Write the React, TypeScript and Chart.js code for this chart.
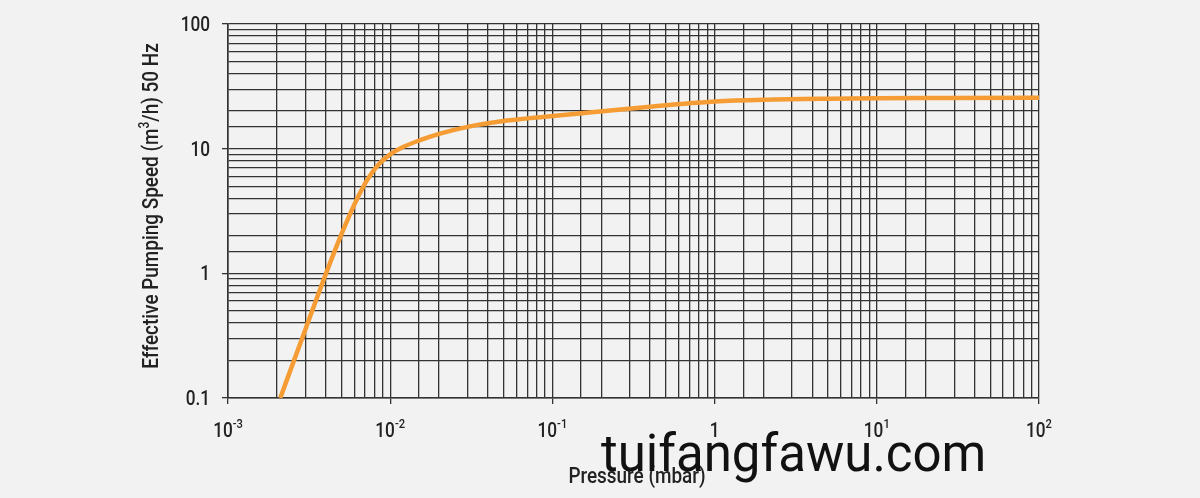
import React, { useEffect, useRef } from 'react';
import { Chart, registerables } from 'chart.js';
Chart.register(...registerables);

// Data
const pressure = [0.0021, 0.003, 0.0038, 0.0045, 0.0053, 0.0062, 0.0072, 0.0085, 0.01, 0.012, 0.0153, 0.0203, 0.031, 0.0475, 0.097, 0.196, 0.4, 0.61, 1, 2, 5, 10, 30, 100];
const speed = [0.1, 0.355, 0.82, 1.46, 2.46, 3.88, 5.6, 7.5, 9.0, 10.3, 11.7, 13.2, 15.1, 16.5, 18.2, 19.9, 21.7, 22.8, 23.9, 24.7, 25.2, 25.4, 25.5, 25.6];

const xTickValues = [0.001, 0.01, 0.1, 1, 10, 100];
const xTickBases = ['10', '10', '10', '1', '10', '10'];
const xTickExps = ['-3', '-2', '-1', '', '1', '2'];
const yTickValues = [0.1, 1, 10, 100];
const yTickLabels = ['0.1', '1', '10', '100'];

const xTitle = 'Pressure (mbar)';
const yTitleParts = ['Effective Pumping Speed (m', '3', '/h) 50 Hz'];
const watermark = 'tuifangfawu.com';

const FONT = "Roboto, 'Noto Sans', sans-serif";
const SX = 0.86; // horizontal condensing
const TEXT = '#222';
const GRID = '#333';

const isMajor = (v: number) => {
  const l = Math.log10(v);
  return Math.abs(l - Math.round(l)) < 1e-9;
};

function measure(ctx: CanvasRenderingContext2D, t: string, size: number) {
  ctx.font = `500 ${size}px ${FONT}`;
  return ctx.measureText(t).width * SX;
}
function put(ctx: CanvasRenderingContext2D, t: string, x: number, y: number, size: number) {
  ctx.save();
  ctx.font = `500 ${size}px ${FONT}`;
  ctx.textAlign = 'left';
  ctx.translate(x, y);
  ctx.scale(SX, 1);
  ctx.fillText(t, 0, 0);
  ctx.restore();
}

export default function App() {
  const ref = useRef<HTMLCanvasElement>(null);
  useEffect(() => {
    document.body.style.margin = '0';
    const canvas = ref.current!;
    const textPlugin = {
      id: 'texts',
      afterDraw(chart: any) {
        const ctx: CanvasRenderingContext2D = chart.ctx;
        const xs = chart.scales.x;
        const ys = chart.scales.y;
        ctx.save();
        ctx.fillStyle = TEXT;
        ctx.textBaseline = 'alphabetic';
        // x tick labels with superscripts
        xTickValues.forEach((v, i) => {
          const px = xs.getPixelForValue(v);
          const bw = measure(ctx, xTickBases[i], 20);
          const ew = xTickExps[i] ? measure(ctx, xTickExps[i], 13) : 0;
          const start = px - (bw + ew) / 2;
          put(ctx, xTickBases[i], start, 437, 20);
          if (xTickExps[i]) put(ctx, xTickExps[i], start + bw, 428, 13);
        });
        // y tick labels
        yTickValues.forEach((v, i) => {
          const py = ys.getPixelForValue(v);
          const w = measure(ctx, yTickLabels[i], 20);
          put(ctx, yTickLabels[i], 210 - w, py + 7, 20);
        });
        // x title
        const tw = measure(ctx, xTitle, 22);
        put(ctx, xTitle, 637 - tw / 2, 483, 22);
        // y title rotated with superscript
        ctx.save();
        ctx.translate(158, 206);
        ctx.rotate(-Math.PI / 2);
        const w0 = measure(ctx, yTitleParts[0], 22);
        const w1 = measure(ctx, yTitleParts[1], 14);
        const w2 = measure(ctx, yTitleParts[2], 22);
        const x0 = -(w0 + w1 + w2) / 2;
        put(ctx, yTitleParts[0], x0, 0, 22);
        put(ctx, yTitleParts[1], x0 + w0, -9, 14);
        put(ctx, yTitleParts[2], x0 + w0 + w1, 0, 22);
        ctx.restore();
        // watermark
        ctx.font = `51px Roboto, 'Noto Sans', sans-serif`;
        ctx.fillStyle = '#111';
        ctx.textAlign = 'left';
        ctx.fillText(watermark, 601, 471);
        ctx.restore();
      },
    };
    const chart = new Chart(canvas, {
      type: 'line',
      data: {
        datasets: [
          {
            data: pressure.map((p, i) => ({ x: p, y: speed[i] })),
            borderColor: '#f59d34',
            borderWidth: 4.5,
            pointRadius: 0,
            fill: false,
            cubicInterpolationMode: 'monotone',
          },
        ],
      },
      options: {
        animation: false,
        responsive: false,
        layout: { padding: { top: 24, left: 0, right: 161, bottom: 0 } },
        plugins: { legend: { display: false }, tooltip: { enabled: false } },
        scales: {
          x: {
            type: 'logarithmic',
            min: 0.001,
            max: 100,
            afterFit: (s: any) => { s.height = 100; },
            ticks: { autoSkip: false, maxRotation: 0, callback: () => '' },
            grid: {
              color: GRID,
              lineWidth: 1.3,
              tickLength: 6,
              tickColor: (c: any) => (c.tick && isMajor(c.tick.value) ? GRID : 'rgba(0,0,0,0)'),
            },
            border: { color: GRID, width: 1.6 },
          },
          y: {
            type: 'logarithmic',
            min: 0.1,
            max: 100,
            afterFit: (s: any) => { s.width = 228; },
            ticks: { autoSkip: false, callback: () => '' },
            grid: {
              color: GRID,
              lineWidth: 1.3,
              tickLength: 6,
              tickColor: (c: any) => (c.tick && isMajor(c.tick.value) ? GRID : 'rgba(0,0,0,0)'),
            },
            border: { color: GRID, width: 1.6 },
          },
        },
      },
      plugins: [textPlugin],
    } as any);
    return () => chart.destroy();
  }, []);
  return (
    <div style={{ width: 1200, height: 498, background: '#f2f2f2' }}>
      <canvas ref={ref} width={1200} height={498} style={{ display: 'block' }} />
    </div>
  );
}
